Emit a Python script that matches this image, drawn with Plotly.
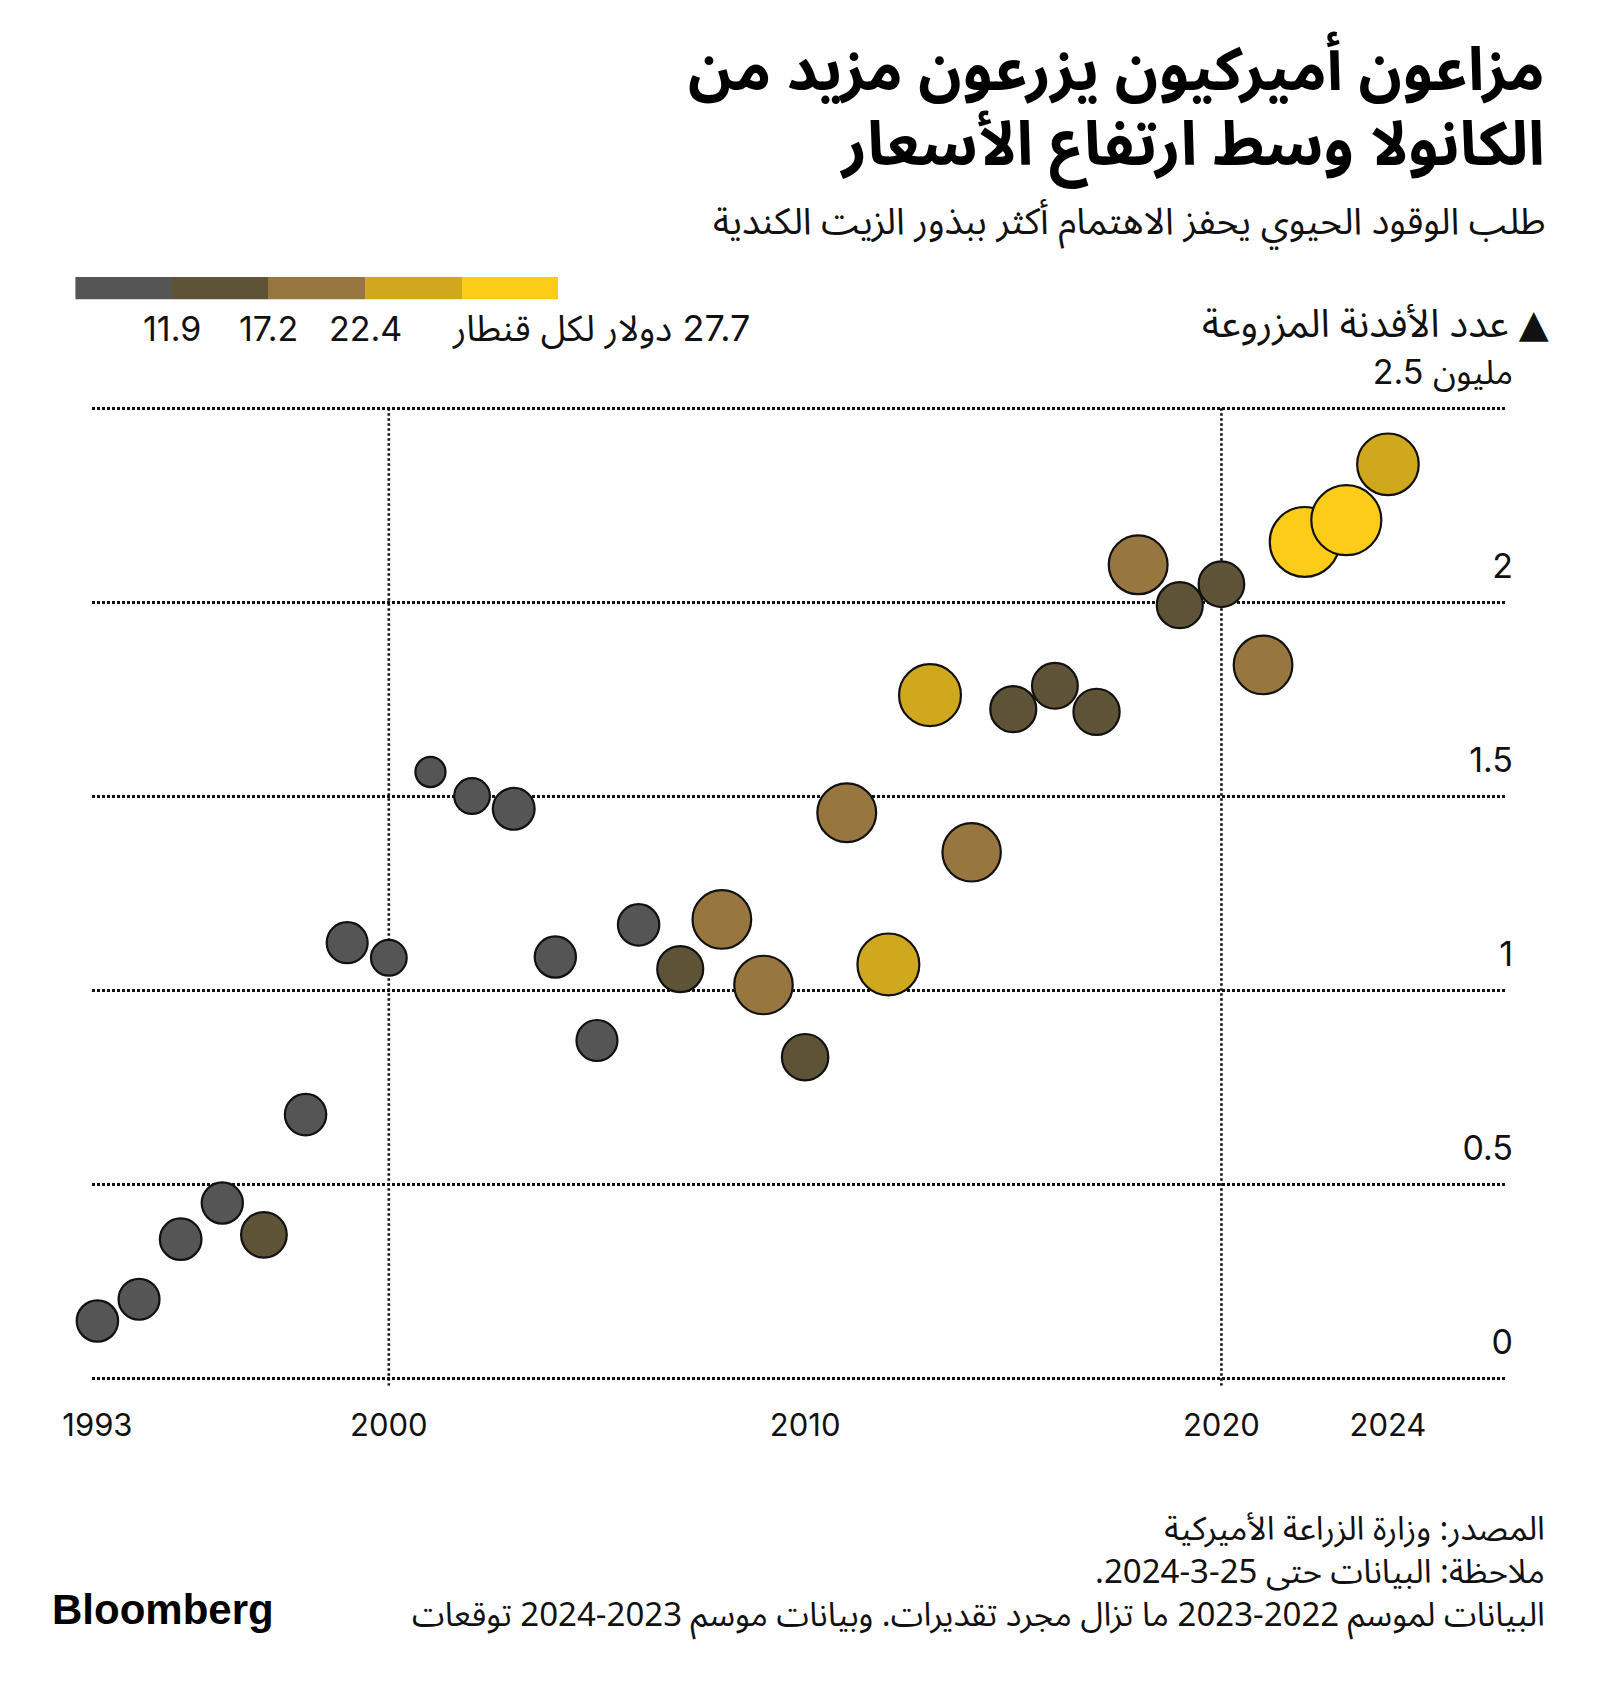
import plotly.graph_objects as go

# ---------------- data ----------------
years = list(range(1993, 2025))
acres_million = [0.147, 0.203, 0.358, 0.451, 0.369, 0.679, 1.122, 1.083, 1.562, 1.500,
                 1.467, 1.085, 0.870, 1.168, 1.054, 1.182, 1.013, 0.827, 1.457, 1.066,
                 1.760, 1.355, 1.724, 1.784, 1.717, 2.096, 1.992, 2.046, 1.838, 2.155,
                 2.211, 2.355]
price_per_cwt = [10.2, 10.0, 10.3, 10.1, 12.4, 10.2, 10.0, 7.6, 5.4, 7.6,
                 10.4, 10.1, 10.0, 10.2, 12.6, 20.5, 20.4, 12.8, 20.6, 22.8,
                 22.8, 20.3, 12.6, 12.5, 12.7, 20.6, 12.6, 12.4, 20.5, 29.0,
                 29.2, 22.6]
price_breaks = [11.9, 17.2, 22.4, 27.7]
break_labels = ["11.9", "17.2", "22.4", "27.7 دولار لكل قنطار"]
bin_colors = ["#555555", "#5f5337", "#97773f", "#d0a81e", "#fdcc18"]

x_ticks = [1993, 2000, 2010, 2020, 2024]
x_grid = [2000, 2020]
y_ticks = [0, 0.5, 1, 1.5, 2, 2.5]
y_ticktext = ["0", "0.5", "1", "1.5", "2", "2.5 مليون"]

title_lines = ["مزاعون أميركيون يزرعون مزيد من", "الكانولا وسط ارتفاع الأسعار"]
subtitle = "طلب الوقود الحيوي يحفز الاهتمام أكثر ببذور الزيت الكندية"
y_title = "عدد الأفدنة المزروعة ▲"
footer_lines = ["المصدر: وزارة الزراعة الأميركية",
                "ملاحظة: البيانات حتى 25-3-2024.",
                "البيانات لموسم 2022-2023 ما تزال مجرد تقديرات. وبيانات موسم 2023-2024 توقعات"]

# ---------------- helpers ----------------
W, H = 1600, 1688
LAT = "Inter, Liberation Sans, Arial, Noto Sans Arabic, DejaVu Sans, sans-serif"
ARB = "Noto Sans Arabic, DejaVu Sans, Liberation Sans, sans-serif"


def px(x):
    return x / W


def py(y):
    return 1 - y / H


def rtl(s):
    return "\u202b" + s + "\u202c"


def ltr(s):
    return "\u202a" + s + "\u202c"


def color_for(p):
    i = 0
    for b in price_breaks:
        if p >= b:
            i += 1
    return bin_colors[i]


point_colors = [color_for(p) for p in price_per_cwt]

fig = go.Figure()

# main scatter
fig.add_trace(go.Scatter(
    x=years, y=acres_million, mode="markers",
    marker=dict(size=price_per_cwt, sizemode="area", sizeref=1 / 84.0,
                color=point_colors, line=dict(color="#111111", width=2.2), opacity=1),
    cliponaxis=False, showlegend=False, hoverinfo="x+y",
))

# colour legend bar
fig.add_trace(go.Bar(
    x=[1] * len(bin_colors), base=list(range(len(bin_colors))), y=[0.5] * len(bin_colors),
    orientation="h", width=1, marker=dict(color=bin_colors, line=dict(width=0)),
    xaxis="x2", yaxis="y2", showlegend=False, hoverinfo="skip",
))

# plot geometry (pixels)
x_left, x_right = 92, 1507
y_top, y_bot = 400.3, 1385.8
GRID_DASH = "2.6px,2.4px"

fig.update_layout(
    width=W, height=H,
    margin=dict(l=0, r=0, t=0, b=0, autoexpand=False),
    paper_bgcolor="white", plot_bgcolor="white",
    showlegend=False,
    xaxis=dict(domain=[px(x_left), px(x_right)], range=[1992.87, 2026.86],
               tickvals=x_ticks, ticktext=[str(v) for v in x_ticks],
               showgrid=False, zeroline=False, showline=False, automargin=False,
               ticks="outside", ticklen=12, tickcolor="rgba(0,0,0,0)",
               tickfont=dict(family=LAT, size=31, color="#111111")),
    yaxis=dict(domain=[py(y_bot), py(y_top)], range=[-0.02, 2.52],
               tickvals=y_ticks, ticktext=[ltr(t) for t in y_ticktext], side="left",
               anchor="free", position=px(1513),
               ticklabelposition="outside", ticklabelshift=-36,
               showgrid=True, gridcolor="#111111", gridwidth=2.6, griddash=GRID_DASH,
               zeroline=False, showline=False, ticks="", automargin=False,
               tickfont=dict(family=LAT, size=34, color="#111111")),
    xaxis2=dict(domain=[px(75.4), px(558.8)], range=[0, 5], anchor="y2",
                visible=False, fixedrange=True, automargin=False),
    yaxis2=dict(domain=[py(299.3), py(276.7)], range=[0, 1], anchor="x2",
                visible=False, fixedrange=True, automargin=False),
    bargap=0,
)

# vertical dotted guide lines
for xv in x_grid:
    fig.add_shape(type="line", xref="x", yref="y", x0=xv, x1=xv, y0=-0.02, y1=2.5,
                  line=dict(color="#111111", width=2.6, dash=GRID_DASH), layer="below")

annotations = []
# titles
annotations.append(dict(text="<b>" + title_lines[0] + "</b>", x=px(1547), y=py(71),
                        xanchor="right", yanchor="middle",
                        font=dict(family=ARB, size=60, color="#000000")))
annotations.append(dict(text="<b>" + title_lines[1] + "</b>", x=px(1547), y=py(145),
                        xanchor="right", yanchor="middle",
                        font=dict(family=ARB, size=61, color="#000000")))
annotations.append(dict(text=subtitle, x=px(1547), y=py(222), xanchor="right", yanchor="middle",
                        font=dict(family=ARB, size=37, color="#111111")))
# y axis title
annotations.append(dict(text=y_title, x=px(1551), y=py(324), xanchor="right", yanchor="middle",
                        font=dict(family=ARB, size=39, color="#111111")))
# legend labels at bin boundaries
for i, lab in enumerate(break_labels):
    if i < len(break_labels) - 1:
        annotations.append(dict(text=lab, x=i + 1, y=0.5, xref="x2", yref="y2",
                                xanchor="center", yanchor="middle", yshift=-40,
                                font=dict(family=LAT, size=34, color="#111111")))
    else:
        annotations.append(dict(text=rtl(lab), x=i + 1, y=0.5, xref="x2", yref="y2",
                                xanchor="left", yanchor="middle", yshift=-40, xshift=-12,
                                font=dict(family=LAT, size=36, color="#111111")))
# footer (one block, right aligned)
annotations.append(dict(text="<br>".join(rtl(l) for l in footer_lines),
                        x=px(1547), y=py(1572), xanchor="right", yanchor="middle",
                        align="right",
                        font=dict(family=ARB, size=33, color="#111111")))
annotations.append(dict(text="<b>Bloomberg</b>", x=px(50), y=py(1609), xanchor="left",
                        yanchor="middle",
                        font=dict(family="Liberation Sans, Arial, sans-serif", size=42,
                                  color="#000000")))
for a in annotations:
    a.setdefault("xref", "paper")
    a.setdefault("yref", "paper")
    a["showarrow"] = False
fig.update_layout(annotations=annotations)

fig.write_html("out.html", config={"displayModeBar": False},
               post_script="document.body.style.margin='0px';")
